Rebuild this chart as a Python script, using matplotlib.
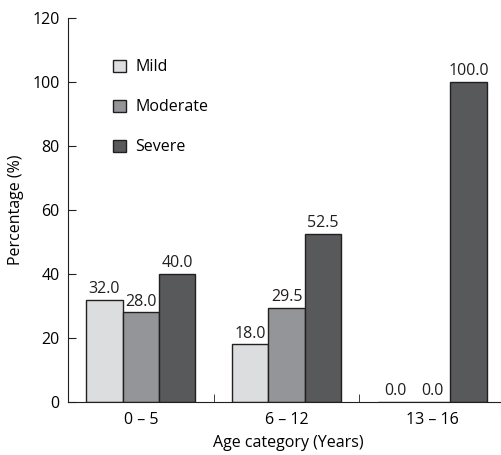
import numpy as np
from matplotlib import pyplot as plt

plt.rcParams['font.family'] = ['Open Sans', 'DejaVu Sans']

categories = ["0 \u2013 5", "6 \u2013 12", "13 \u2013 16"]
series_names = ["Mild", "Moderate", "Severe"]
mild = [32.0, 18.0, 0.0]
moderate = [28.0, 29.5, 0.0]
severe = [40.0, 52.5, 100.0]
colors = ["#dcdddf", "#939598", "#58595b"]

fig = plt.figure(figsize=(5.02, 4.55), dpi=100)
ax = fig.add_axes([68 / 502, 1 - 402 / 455, 440 / 502, 384 / 455])

x = np.arange(len(categories))
width = 0.25
for i, (name, vals) in enumerate(zip(series_names, [mild, moderate, severe])):
    pos = x + (i - 1) * width
    ax.bar(pos, vals, width, color=colors[i], edgecolor="#231f20", linewidth=1.0, label=name)
    for p, v in zip(pos, vals):
        ax.text(p, v + 0.8, f"{v:.1f}", ha="center", va="bottom", fontsize=11.5, color="#231f20")

ax.set_xlim(-0.5, 2.52)
ax.set_ylim(0, 120)
ax.set_yticks(range(0, 121, 20))
ax.set_xticks(x)
ax.set_xticklabels(categories, fontsize=11.5)
ax.set_xticks([0.5, 1.5], minor=True)
ax.tick_params(axis="x", which="major", length=0, pad=7)
ax.tick_params(axis="x", which="minor", direction="in", length=6, color="#231f20")
ax.tick_params(axis="y", direction="in", length=6, labelsize=11.5, color="#231f20", pad=6)
for s in ["top", "right"]:
    ax.spines[s].set_visible(False)
for s in ["left", "bottom"]:
    ax.spines[s].set_color("#231f20")
ax.set_xlabel("Age category (Years)", fontsize=11.5, labelpad=5)
ax.set_ylabel("Percentage (%)", fontsize=11.5, labelpad=6)

ax.legend(loc="upper left", bbox_to_anchor=(0.07, 0.93), frameon=False, fontsize=11.5,
          handlelength=0.8, handleheight=0.8, labelspacing=1.5, handletextpad=0.6)

fig.savefig("out.png", dpi=100)
